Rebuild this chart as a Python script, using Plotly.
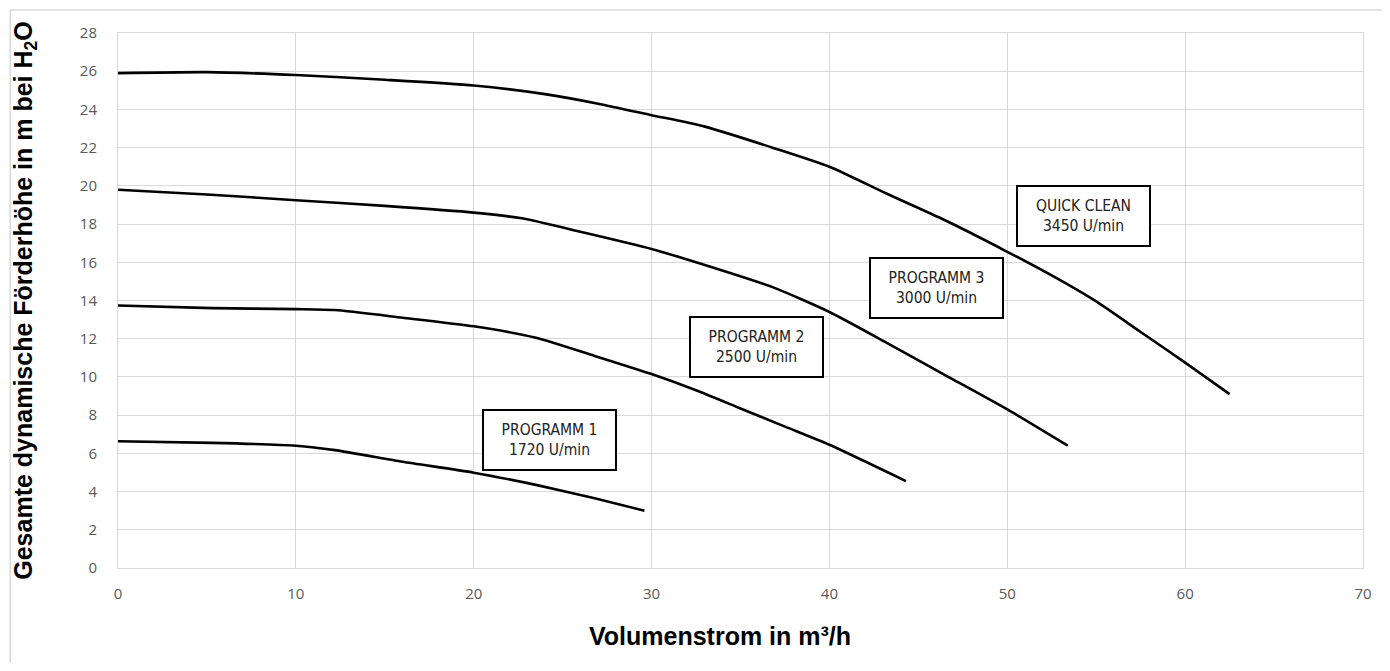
import plotly.graph_objects as go

# pump curves
qc_x = [0, 5, 10, 15, 20, 24, 27, 30, 33, 36.8, 40, 43.2, 46.5, 50, 53, 55, 57.5, 60, 62.5]
qc_y = [25.9, 25.95, 25.8, 25.55, 25.25, 24.8, 24.3, 23.7, 23.1, 22.0, 21.0, 19.6, 18.2, 16.55, 15.05, 13.95, 12.35, 10.75, 9.1]

p3_x = [0, 5, 10, 15, 20, 22.7, 26, 30, 32.5, 36.8, 40, 43.2, 46.5, 50, 53.4]
p3_y = [19.8, 19.55, 19.25, 18.95, 18.6, 18.3, 17.6, 16.7, 16.0, 14.7, 13.4, 11.8, 10.1, 8.3, 6.4]

p2_x = [0, 5.3, 10, 12.2, 16, 20, 23.5, 26.8, 30, 32.5, 35, 37.5, 40, 44.3]
p2_y = [13.74, 13.6, 13.55, 13.5, 13.1, 12.65, 12.05, 11.1, 10.15, 9.3, 8.35, 7.4, 6.45, 4.55]

p1_x = [0, 5.3, 10, 12.2, 16, 20, 23.5, 26.8, 29.6]
p1_y = [6.63, 6.55, 6.4, 6.17, 5.56, 4.99, 4.35, 3.65, 3.0]

labels = ["QUICK CLEAN<br>3450 U/min", "PROGRAMM 3<br>3000 U/min",
          "PROGRAMM 2<br>2500 U/min", "PROGRAMM 1<br>1720 U/min"]
label_x = [54.3, 46.0, 35.9, 24.26]
label_y = [18.43, 14.66, 11.57, 6.70]

x_ticks = list(range(0, 71, 10))
y_ticks = list(range(0, 29, 2))

fig = go.Figure()
for xs, ys in [(qc_x, qc_y), (p3_x, p3_y), (p2_x, p2_y), (p1_x, p1_y)]:
    fig.add_trace(go.Scatter(
        x=xs, y=ys, mode="lines",
        line=dict(color="black", width=2.6, shape="spline", smoothing=0.6),
        showlegend=False, hoverinfo="skip"
    ))

for txt, ax, ay in zip(labels, label_x, label_y):
    fig.add_annotation(
        x=ax, y=ay, text=txt, showarrow=False,
        font=dict(family="DejaVu Sans Condensed, Liberation Sans Narrow, sans-serif", size=15.5, color="#222222"),
        bgcolor="white", bordercolor="black", borderwidth=2, borderpad=2,
        width=127, height=54, align="center"
    )

# x axis title sits a bit left of the plot centre in the original
fig.add_annotation(
    xref="paper", yref="paper", x=(722 - 119) / 1248, y=(568 - 636) / 535,
    text="<b>Volumenstrom in m³/h</b>", showarrow=False, yanchor="middle",
    font=dict(family="Liberation Sans, Arial, sans-serif", size=25, color="black")
)

# light outer frame like the exported chart area
fig.add_shape(type="rect", xref="paper", yref="paper",
              x0=-108 / 1248, x1=1.05, y0=-0.3, y1=(568 - 10) / 535,
              line=dict(color="#d9d9d9", width=1.5), layer="below")

fig.update_xaxes(
    range=[0, 70], tickvals=x_ticks, showgrid=True, gridcolor="#d9d9d9", gridwidth=1,
    zeroline=False, showline=True, linecolor="#d9d9d9", mirror=True, ticks="",
    ticklabelstandoff=12,
    tickfont=dict(family="Open Sans, sans-serif", size=15, color="#595959"),
)
fig.update_yaxes(
    range=[0, 28], tickvals=y_ticks, showgrid=True, gridcolor="#d9d9d9", gridwidth=1,
    zeroline=False, showline=True, linecolor="#d9d9d9", mirror=True, ticks="",
    ticklabelstandoff=17,
    tickfont=dict(family="Open Sans, sans-serif", size=15, color="#595959"),
    title=dict(text="<b>Gesamte dynamische Förderhöhe in m bei H<sub>2</sub>O</b>", standoff=40,
               font=dict(family="Liberation Sans, Arial, sans-serif", size=25, color="black"))
)

fig.update_layout(
    width=1374, height=655,
    margin=dict(l=110, r=10, t=25, b=95),
    paper_bgcolor="white", plot_bgcolor="white",
)

fig.write_html("out.html")
